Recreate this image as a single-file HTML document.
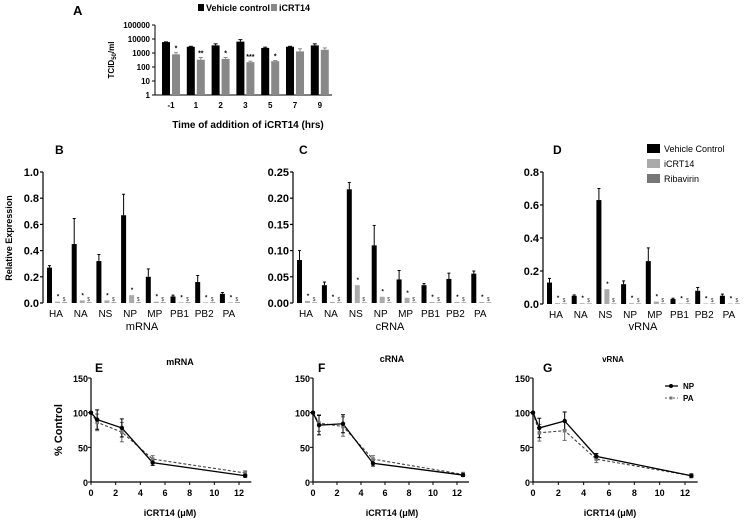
<!DOCTYPE html>
<html><head><meta charset="utf-8">
<style>
body{margin:0;background:#fff;}
svg{display:block;font-family:"Liberation Sans",Arial,sans-serif;}
</style></head>
<body>
<svg id="fig" width="745" height="522" viewBox="0 0 745 522">
  <!-- Panel A static text -->
  <text x="73" y="15" font-size="13" font-weight="bold">A</text>
  <rect x="198" y="4" width="6" height="7" fill="#000"/>
  <text x="206" y="11" font-size="9" font-weight="bold">Vehicle control</text>
  <rect x="271" y="4" width="6" height="7" fill="#888"/>
  <text x="279" y="11" font-size="9" font-weight="bold">iCRT14</text>
  <text transform="translate(114,60) rotate(-90)" font-size="8" font-weight="bold" text-anchor="middle">TCID<tspan font-size="6" dy="2">50</tspan><tspan dy="-2">/ml</tspan></text>
  <text x="248" y="128" font-size="10" font-weight="bold" text-anchor="middle">Time of addition of iCRT14 (hrs)</text>

  <!-- B/C/D text -->
  <text x="55" y="154" font-size="12" font-weight="bold">B</text>
  <text x="299" y="154" font-size="12" font-weight="bold">C</text>
  <text x="553" y="154" font-size="12" font-weight="bold">D</text>
  <text transform="translate(12,238) rotate(-90)" font-size="9" font-weight="bold" text-anchor="middle">Relative Expression</text>
  <text x="142" y="330" font-size="11" text-anchor="middle">mRNA</text>
  <text x="390" y="330" font-size="11" text-anchor="middle">cRNA</text>
  <text x="643" y="330" font-size="11" text-anchor="middle">vRNA</text>
  <rect x="647" y="144" width="13" height="9" fill="#000"/>
  <text x="664" y="152" font-size="9">Vehicle Control</text>
  <rect x="647" y="159" width="13" height="9" fill="#aaa"/>
  <text x="664" y="167" font-size="9">iCRT14</text>
  <rect x="647" y="174" width="13" height="9" fill="#777"/>
  <text x="664" y="182" font-size="9">Ribavirin</text>

  <!-- E/F/G text -->
  <text x="95" y="372" font-size="12" font-weight="bold">E</text>
  <text x="318" y="372" font-size="12" font-weight="bold">F</text>
  <text x="543" y="372" font-size="12" font-weight="bold">G</text>
  <text x="180" y="365" font-size="9" font-weight="bold" text-anchor="middle">mRNA</text>
  <text x="392" y="362" font-size="9" font-weight="bold" text-anchor="middle">cRNA</text>
  <text x="613" y="362" font-size="8" font-weight="bold" text-anchor="middle">vRNA</text>
  <text transform="translate(62,430) rotate(-90)" font-size="11" font-weight="bold" text-anchor="middle">% Control</text>
  <text x="170" y="516" font-size="9" font-weight="bold" text-anchor="middle">iCRT14 (μM)</text>
  <text x="392" y="516" font-size="9" font-weight="bold" text-anchor="middle">iCRT14 (μM)</text>
  <text x="610" y="516" font-size="9" font-weight="bold" text-anchor="middle">iCRT14 (μM)</text>
  <line x1="665" y1="386" x2="678" y2="386" stroke="#000" stroke-width="1.3"/>
  <circle cx="671" cy="386" r="2" fill="#000"/>
  <text x="683" y="389" font-size="8" font-weight="bold">NP</text>
  <line x1="665" y1="398" x2="678" y2="398" stroke="#555" stroke-width="1.1" stroke-dasharray="2,2"/>
  <rect x="669.5" y="396.5" width="3" height="3" fill="#777"/>
  <text x="683" y="401" font-size="8" font-weight="bold">PA</text>
</svg>
<script>
// ---------- Panel A data ----------
const timeCats = ["-1","1","2","3","5","7","9"];
const vehicleTCID = [6000,2800,3500,6500,2300,2800,3500];
const vehicleErr = [6200,3000,4500,9000,2600,3000,4500];
const icrtTCID = [800,330,380,220,260,1300,1700];
const icrtErr = [1050,480,480,260,290,2000,2300];
const starsA = ["*","**","*","***","*","",""];
const logTicksA = [1,10,100,1000,10000,100000];

// ---------- Panels B/C/D data ----------
const genes = ["HA","NA","NS","NP","MP","PB1","PB2","PA"];
const mrnaVehicle = [0.27,0.45,0.32,0.67,0.20,0.05,0.16,0.07];
const mrnaVehicleErr = [0.285,0.645,0.37,0.83,0.26,0.06,0.21,0.08];
const mrnaIcrt = [0.01,0.02,0.02,0.06,0.01,0.005,0.005,0.005];
const mrnaRiba = [0.005,0.005,0.005,0.005,0.005,0.005,0.005,0.005];
const mrnaTicks = [0,0.2,0.4,0.6,0.8,1.0];
const crnaVehicle = [0.082,0.034,0.217,0.110,0.045,0.034,0.046,0.056];
const crnaVehicleErr = [0.100,0.040,0.230,0.148,0.062,0.037,0.057,0.061];
const crnaIcrt = [0.004,0.002,0.034,0.012,0.01,0.002,0.002,0.002];
const crnaRiba = [0.001,0.001,0.001,0.001,0.001,0.001,0.001,0.001];
const crnaTicks = [0,0.05,0.10,0.15,0.20,0.25];
const vrnaVehicle = [0.13,0.05,0.63,0.12,0.26,0.03,0.08,0.05];
const vrnaVehicleErr = [0.155,0.055,0.70,0.14,0.34,0.035,0.10,0.06];
const vrnaIcrt = [0.005,0.005,0.09,0.005,0.015,0.003,0.003,0.003];
const vrnaRiba = [0.003,0.003,0.003,0.003,0.003,0.003,0.003,0.003];
const vrnaTicks = [0,0.2,0.4,0.6,0.8];

// ---------- Panels E/F/G data ----------
const doses = [0,0.5,2.5,5,12.5];
const eNP = [100,90,78,28,9];
const ePA = [100,86,72,33,13];
const fNP = [100,82,84,27,10];
const fPA = [100,85,80,33,11];
const gNP = [100,78,88,37,9];
const gPA = [100,71,74,33,9];
const errNP = [0,14,13,4,2];
const errPA = [0,12,14,5,3];
const pctTicks = [0,50,100,150];
const doseTicks = [0,2,4,6,8,10,12];

const svg = document.getElementById('fig');
const NS = 'http://www.w3.org/2000/svg';
function mk(tag, attrs, parent){
  const e = document.createElementNS(NS, tag);
  for (const k in attrs) e.setAttribute(k, attrs[k]);
  (parent||svg).appendChild(e);
  return e;
}

// ---------- Panel A ----------
(function(){
  const x0 = 155, xEnd = 332, yBase = 95, decade = 14;
  const yA = v => yBase - Math.log10(v) * decade;
  const xA = i => 171 + i * 24.8;
  const ax = mk('line',{x1:x0,y1:yA(100000),x2:x0,y2:yBase,stroke:'#000','stroke-width':1});
  
  
  const bx = mk('line',{x1:x0,y1:yBase,x2:xEnd,y2:yBase,stroke:'#000','stroke-width':1});
  
  
  logTicksA.forEach(t=>{
    const tk = mk('line',{x1:x0-3,y1:yA(t),x2:x0,y2:yA(t),stroke:'#000'});
    
    
    const tl = mk('text',{x:x0-5,y:yA(t)+3,'font-size':8,'font-weight':'bold','text-anchor':'end'});
    tl.textContent = t;
    
    
  });
  timeCats.forEach((c,i)=>{
    const cx = xA(i);
    const b1 = mk('rect',{x:cx-9,y:yA(vehicleTCID[i]),width:8,height:yBase-yA(vehicleTCID[i]),fill:'#000'});
    
    
    const e1 = mk('line',{x1:cx-5,y1:yA(vehicleErr[i]),x2:cx-5,y2:yA(vehicleTCID[i]),stroke:'#000'});
    
    
    mk('line',{x1:cx-7,y1:yA(vehicleErr[i]),x2:cx-3,y2:yA(vehicleErr[i]),stroke:'#000'});
    const b2 = mk('rect',{x:cx+1,y:yA(icrtTCID[i]),width:8,height:yBase-yA(icrtTCID[i]),fill:'#888'});
    
    
    const e2 = mk('line',{x1:cx+5,y1:yA(icrtErr[i]),x2:cx+5,y2:yA(icrtTCID[i]),stroke:'#888'});
    
    
    mk('line',{x1:cx+3,y1:yA(icrtErr[i]),x2:cx+7,y2:yA(icrtErr[i]),stroke:'#888'});
    if (starsA[i]) {
      const s = mk('text',{x:cx+5,y:yA(icrtErr[i])-2,'font-size':7,'font-weight':'bold','text-anchor':'middle'});
      s.textContent = starsA[i];
      
      
    }
    const tl = mk('text',{x:cx,y:yBase+13,'font-size':8,'font-weight':'bold','text-anchor':'middle'});
    tl.textContent = c;
    
    
  });
})();

// ---------- Panels B/C/D ----------
function barPanel(id, x0, yTop, yBase, maxV, ticks, decimals, xFirst, step, veh, vehErr, icrt, riba){
  const y = v => yBase - (v / maxV) * (yBase - yTop);
  const ax = mk('line',{x1:x0,y1:yTop,x2:x0,y2:yBase,stroke:'#000','stroke-width':1.2});
  
  
  ticks.forEach(t=>{
    mk('line',{x1:x0-3,y1:y(t),x2:x0,y2:y(t),stroke:'#000','stroke-width':1.2});
    const tl = mk('text',{x:x0-4,y:y(t)+4,'font-size':11,'font-weight':'bold','text-anchor':'end'});
    tl.textContent = t.toFixed(decimals);
    
    
  });
  genes.forEach((g,i)=>{
    const bx = xFirst + i*step;
    const b = mk('rect',{x:bx,y:y(veh[i]),width:5,height:yBase-y(veh[i]),fill:'#000'});
    
    
    const e = mk('line',{x1:bx+2.5,y1:y(vehErr[i]),x2:bx+2.5,y2:y(veh[i]),stroke:'#000','stroke-width':1});
    
    
    mk('line',{x1:bx+1,y1:y(vehErr[i]),x2:bx+4,y2:y(vehErr[i]),stroke:'#000'});
    const b2 = mk('rect',{x:bx+8,y:y(icrt[i]),width:5,height:yBase-y(icrt[i]),fill:'#aaa'});
    
    
    const b3 = mk('rect',{x:bx+15,y:y(riba[i]),width:5,height:yBase-y(riba[i]),fill:'#777'});
    
    
    const s = mk('text',{x:bx+11,y:y(icrt[i])-3,'font-size':6,'font-weight':'bold','text-anchor':'middle'});
    s.textContent = '*';
    
    
    const s2 = mk('text',{x:bx+17,y:yBase-2,'font-size':5,'fill':'#333','text-anchor':'middle'});
    s2.textContent = '$';
    
    
    const tl = mk('text',{x:bx+9,y:yBase+14,'font-size':10,'text-anchor':'middle'});
    tl.textContent = g;
    
    
  });
}
barPanel('b',43,172,303,1.0,mrnaTicks,1,47,24.7,mrnaVehicle,mrnaVehicleErr,mrnaIcrt,mrnaRiba);
barPanel('c',293,172,303,0.25,crnaTicks,2,297,24.9,crnaVehicle,crnaVehicleErr,crnaIcrt,crnaRiba);
barPanel('d',543,172,304,0.8,vrnaTicks,1,547,24.7,vrnaVehicle,vrnaVehicleErr,vrnaIcrt,vrnaRiba);

// ---------- Panels E/F/G ----------
function linePanel(id, x0, x12, np, pa){
  const yTop = 378, yBase = 482;
  const x = v => x0 + v * (x12 - x0) / 12;
  const y = v => yBase - v / 150 * (yBase - yTop);
  const ax = mk('line',{x1:x0,y1:yTop,x2:x0,y2:yBase,stroke:'#000','stroke-width':1.2});
  
  
  const bx = mk('line',{x1:x0,y1:yBase,x2:x(13),y2:yBase,stroke:'#000','stroke-width':1.2});
  
  
  pctTicks.forEach(t=>{
    mk('line',{x1:x0-3,y1:y(t),x2:x0,y2:y(t),stroke:'#000'});
    const tl = mk('text',{x:x0-3,y:y(t)+4,'font-size':9,'font-weight':'bold','text-anchor':'end'});
    tl.textContent = t;
    
    
  });
  doseTicks.forEach(t=>{
    mk('line',{x1:x(t),y1:yBase,x2:x(t),y2:yBase+3,stroke:'#000'});
    const tl = mk('text',{x:x(t),y:yBase+14,'font-size':9,'font-weight':'bold','text-anchor':'middle'});
    tl.textContent = t;
    
    
  });
  const paLine = mk('polyline',{points:doses.map((d,i)=>x(d)+','+y(pa[i])).join(' '),fill:'none',stroke:'#444','stroke-width':1.1,'stroke-dasharray':'3,2'});
  
  
  const npLine = mk('polyline',{points:doses.map((d,i)=>x(d)+','+y(np[i])).join(' '),fill:'none',stroke:'#000','stroke-width':1.3});
  
  
  doses.forEach((d,i)=>{
    [[pa,errPA,'#666'],[np,errNP,'#000']].forEach(([arr,err,c])=>{
      if (err[i]>0){
        mk('line',{x1:x(d),y1:y(arr[i]+err[i]),x2:x(d),y2:y(arr[i]-err[i]),stroke:c});
        mk('line',{x1:x(d)-2,y1:y(arr[i]+err[i]),x2:x(d)+2,y2:y(arr[i]+err[i]),stroke:c});
        mk('line',{x1:x(d)-2,y1:y(arr[i]-err[i]),x2:x(d)+2,y2:y(arr[i]-err[i]),stroke:c});
      }
    });
    const sq = mk('rect',{x:x(d)-1.8,y:y(pa[i])-1.8,width:3.6,height:3.6,fill:'#777'});
    
    
    const c = mk('circle',{cx:x(d),cy:y(np[i]),r:2.2,fill:'#000'});
    
    
  });
}
linePanel('e',91,239,eNP,ePA);
linePanel('f',313,457,fNP,fPA);
linePanel('g',533,685,gNP,gPA);
</script>
</body></html>
